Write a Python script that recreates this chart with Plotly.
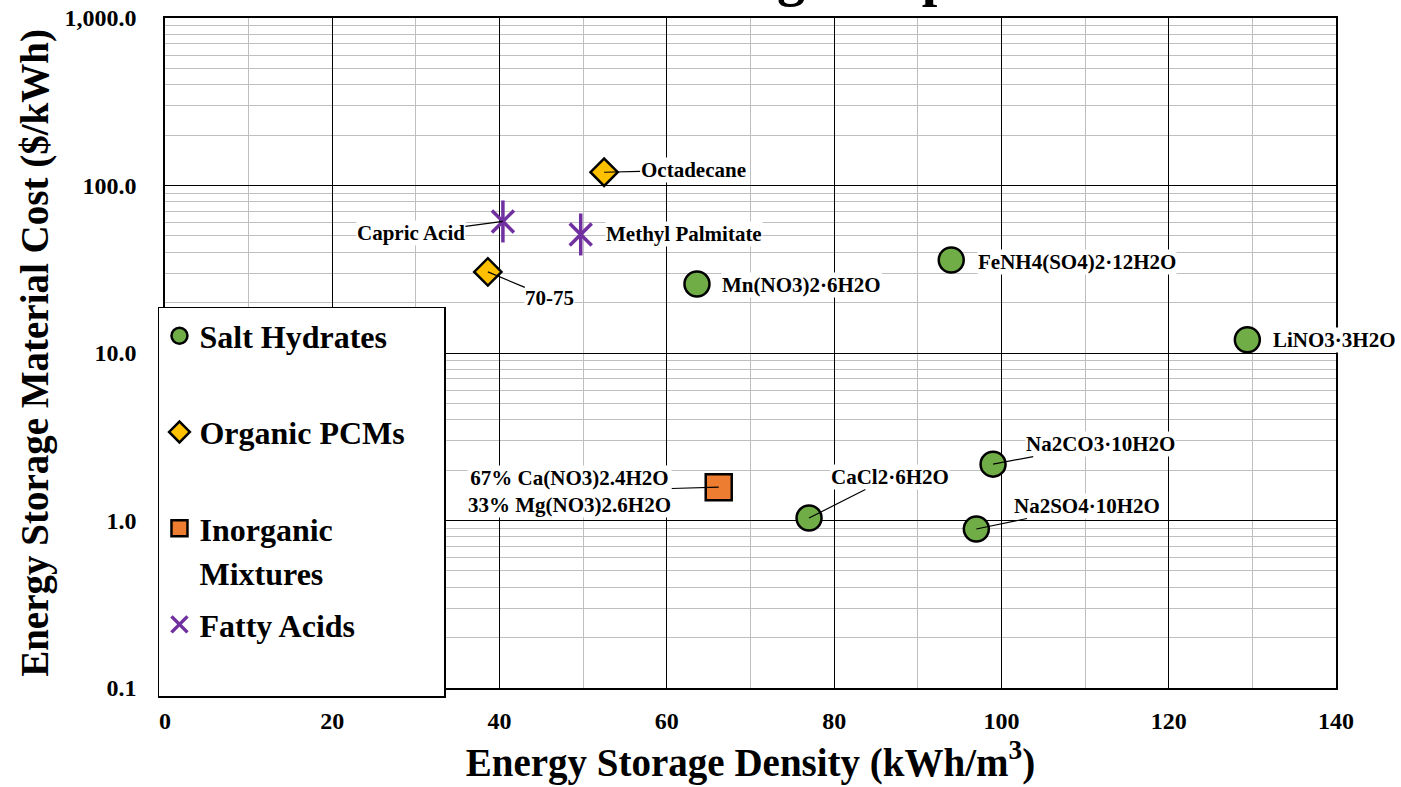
import numpy as np
import plotly.graph_objects as go

# ---------------- data ----------------
salt_names = ["Mn(NO3)2·6H2O", "FeNH4(SO4)2·12H2O", "LiNO3·3H2O",
              "Na2CO3·10H2O", "Na2SO4·10H2O", "CaCl2·6H2O"]
salt_density = [63.6, 94.0, 129.4, 99.0, 97.0, 77.0]
salt_cost = [25.8, 35.9, 12.0, 2.17, 0.89, 1.035]

organic_names = ["Octadecane", "70-75"]
organic_density = [52.5, 38.6]
organic_cost = [120.0, 30.5]

mixture_names = ["67% Ca(NO3)2.4H2O<br>33% Mg(NO3)2.6H2O"]
mixture_density = [66.2]
mixture_cost = [1.58]

fatty_names = ["Capric Acid", "Methyl Palmitate"]
fatty_density = [40.4, 49.7]
fatty_cost = [61.0, 51.0]

x_tick_vals = [0, 20, 40, 60, 80, 100, 120, 140]
y_tick_vals = [0.1, 1, 10, 100, 1000]
y_tick_text = ["0.1", "1.0", "10.0", "100.0", "1,000.0"]

# ---------------- label placement (pixel offsets: dx, dy, leader line) ----------------
label_offsets = {
    "Mn(NO3)2·6H2O": (105, 1, False),
    "FeNH4(SO4)2·12H2O": (126, 2, False),
    "LiNO3·3H2O": (87, 0, False),
    "Na2CO3·10H2O": (107, -20, True),
    "Na2SO4·10H2O": (111, -23, True),
    "CaCl2·6H2O": (81, -41, True),
    "Octadecane": (89, -2, True),
    "70-75": (62, 26, True),
    "67% Ca(NO3)2.4H2O<br>33% Mg(NO3)2.6H2O": (-149, 4, True),
    "Capric Acid": (-92, 12, True),
    "Methyl Palmitate": (103, 0, False),
}

FONT = "Liberation Serif, Times New Roman, serif"
GREEN = "#70AD47"
GOLD = "#FFC000"
ORANGE = "#ED7D31"
PURPLE = "#7030A0"
NBSP = "\u00a0"

fig = go.Figure()

def spacer(group, n=1):
    return go.Scatter(x=[None], y=[None], mode="markers", name=NBSP * n,
                      legendgroup=group, hoverinfo="skip",
                      marker=dict(color="rgba(0,0,0,0)", size=1,
                                  line=dict(width=0)))

fig.add_trace(go.Scatter(x=salt_density, y=salt_cost, mode="markers",
                         name="Salt Hydrates", legendgroup="salt",
                         marker=dict(symbol="circle", size=25, color=GREEN,
                                     line=dict(color="black", width=2.5))))
fig.add_trace(spacer("salt", 30))
fig.add_trace(go.Scatter(x=organic_density, y=organic_cost, mode="markers",
                         name="Organic PCMs", legendgroup="org",
                         marker=dict(symbol="diamond", size=21, color=GOLD,
                                     line=dict(color="black", width=2.5))))
fig.add_trace(spacer("org"))
fig.add_trace(go.Scatter(x=mixture_density, y=mixture_cost, mode="markers",
                         name="Inorganic", legendgroup="inorg",
                         marker=dict(symbol="square", size=26, color=ORANGE,
                                     line=dict(color="black", width=2.5))))
fig.add_trace(go.Scatter(x=[None], y=[None], mode="markers", name="Mixtures",
                         legendgroup="inorg",
                         marker=dict(color="rgba(0,0,0,0)", size=1, line=dict(width=0))))
fig.add_trace(go.Scatter(x=fatty_density, y=fatty_cost, mode="markers",
                         name="Fatty Acids", legendgroup="fatty",
                         marker=dict(symbol="x-thin-open", size=22, color=PURPLE,
                                     line=dict(color=PURPLE, width=3.5))))
fig.add_trace(spacer("fatty"))
fig.add_trace(go.Scatter(x=fatty_density, y=fatty_cost, mode="markers",
                         showlegend=False, legendgroup="fatty",
                         marker=dict(symbol="line-ns-open", size=30, color=PURPLE,
                                     line=dict(color=PURPLE, width=3.5))))

# ---------------- labels ----------------
all_names = salt_names + organic_names + mixture_names + fatty_names
all_x = salt_density + organic_density + mixture_density + fatty_density
all_y = salt_cost + organic_cost + mixture_cost + fatty_cost
for name, xv, yv in zip(all_names, all_x, all_y):
    dx, dy, leader = label_offsets[name]
    common = dict(x=xv, y=np.log10(yv), xref="x", yref="y", text=name,
                  font=dict(family=FONT, size=21, color="black", weight="bold"),
                  bgcolor="white", borderpad=0)
    if leader:
        fig.add_annotation(**common, showarrow=True, ax=dx, ay=dy,
                           axref="pixel", ayref="pixel", arrowhead=0,
                           arrowwidth=1.2, arrowcolor="black", standoff=0)
    else:
        fig.add_annotation(**common, showarrow=False, xshift=dx, yshift=-dy)

# cut-off title at the very top
fig.add_annotation(x=0.5166, y=1.0625, xref="paper", yref="paper",
                   text="10-30°C Melting Temperature", showarrow=False,
                   font=dict(family=FONT, size=56, color="black", weight="bold"),
                   yanchor="middle")

axis_font = dict(family=FONT, size=24, color="black", weight="bold")
title_font = dict(family=FONT, size=39, color="black", weight="bold")

fig.update_layout(
    width=1401, height=787,
    margin=dict(l=165, r=65, t=18, b=99),
    paper_bgcolor="white", plot_bgcolor="white",
    showlegend=True,
    legend=dict(x=-0.006, y=0.5687, xanchor="left", yanchor="top",
                xref="paper", yref="paper",
                bgcolor="white", bordercolor="black", borderwidth=1.5,
                font=dict(family=FONT, size=32, color="black", weight="bold"),
                traceorder="grouped", tracegroupgap=7, itemclick=False,
                itemdoubleclick=False),
    xaxis=dict(range=[0, 140], tickvals=x_tick_vals, ticks="", tickfont=axis_font,
               showgrid=True, gridcolor="black", gridwidth=1.3, zeroline=False,
               showline=True, linecolor="black", linewidth=1.5, mirror=True,
               minor=dict(dtick=10, showgrid=True, gridcolor="#BFBFBF", gridwidth=1),
               title=dict(text="Energy Storage Density (kWh/m<sup>3</sup>)",
                          font=title_font, standoff=16),
               ticklabelstandoff=10, ticklabeloverflow="allow", automargin=False),
    yaxis=dict(type="log", range=[-1, 3], tickvals=y_tick_vals, ticktext=y_tick_text,
               ticks="", tickfont=axis_font,
               showgrid=True, gridcolor="black", gridwidth=1.3, zeroline=False,
               showline=True, linecolor="black", linewidth=1.5, mirror=True,
               minor=dict(dtick="D1", showgrid=True, gridcolor="#BFBFBF", gridwidth=1),
               title=dict(text="Energy Storage Material Cost ($/kWh)",
                          font=title_font, standoff=4),
               ticklabelstandoff=22, ticklabeloverflow="allow", automargin=False),
)

fig.write_html("out.html",
               config={"displayModeBar": False},
               post_script="document.body.style.margin='0';"
                           "document.documentElement.style.overflow='hidden';")
